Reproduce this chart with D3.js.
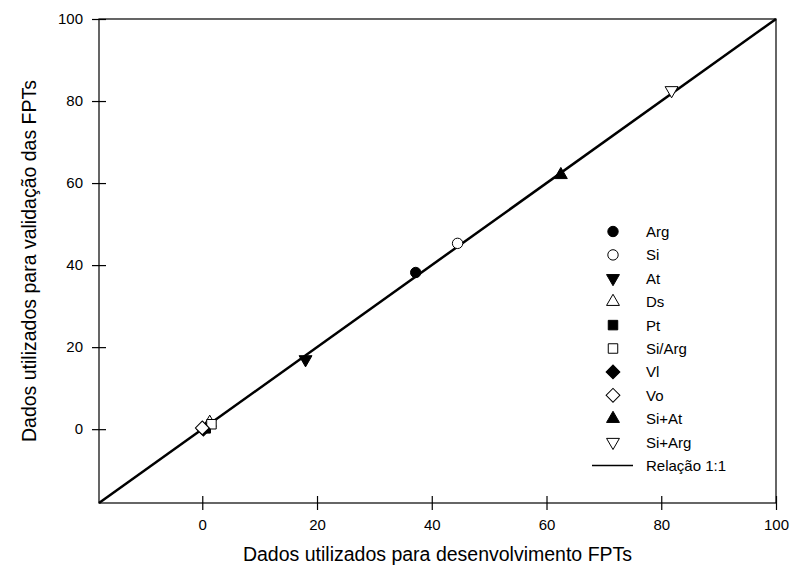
<!DOCTYPE html>
<html><head><meta charset="utf-8">
<script src="https://cdn.jsdelivr.net/npm/d3@7"></script>
<style>body{margin:0;background:#fff}svg{display:block}text{font-family:"Liberation Sans",Arial,sans-serif;fill:#000}</style>
</head><body><svg id="c" width="794" height="582"></svg>
<script>
const seriesNames = ["Arg","Si","At","Ds","Pt","Si/Arg","Vl","Vo","Si+At","Si+Arg"];
const xValues = [37.2, 44.5, 18.0, 1.3, 0.6, 1.6, 0.2, 0.0, 62.5, 81.8];
const yValues = [38.2, 45.3, 17.0, 1.6, 0.2, 1.2, 0.0, 0.3, 62.0, 82.6];
const shapes  = ["circle","circle","triDown","triUp","square","square","diamond","diamond","triUp","triDown"];
const filled  = [true,false,true,false,true,false,true,false,true,false];
const tickValues = [0,20,40,60,80,100];
const lineValues = [-18, 100];
const lineLabel = "Relação 1:1";
const xTitle = "Dados utilizados para desenvolvimento FPTs";
const yTitle = "Dados utilizados para validação das FPTs";

const svg = d3.select("#c");
const L = 99, R = 776, T = 19, B = 503;
const x = d3.scaleLinear().domain([-18, 100]).range([L, R]);
const y = d3.scaleLinear().domain([-18, 100]).range([B, T]);

function symPath(s){
  if (s === "circle") return d3.symbol(d3.symbolCircle, 85)();
  if (s === "square") return d3.symbol(d3.symbolSquare, 90)();
  if (s === "diamond") return d3.symbol(d3.symbolSquare, 95)();
  return d3.symbol(d3.symbolTriangle, 72)();
}
function symRot(s){
  if (s === "diamond") return 45;
  if (s === "triDown") return 180;
  return 0;
}

// frame
svg.append("rect").attr("x", L).attr("y", T).attr("width", R - L).attr("height", B - T)
  .attr("fill", "none").attr("stroke", "#000").attr("stroke-width", 1.2);

// axes
const xa = svg.append("g").attr("transform", `translate(0,${B})`)
  .call(d3.axisBottom(x).tickValues(tickValues).tickSize(7).tickPadding(9));
const ya = svg.append("g").attr("transform", `translate(${L},0)`)
  .call(d3.axisLeft(y).tickValues(tickValues).tickSize(7).tickPadding(9));
[xa, ya].forEach(g => {
  g.select(".domain").remove();
  g.selectAll(".tick line").attr("stroke", "#000").attr("stroke-width", 1.2);
  g.selectAll(".tick text").attr("font-size", 15).attr("font-family", "Liberation Sans, Arial, sans-serif").attr("fill", "#000");
});
xa.selectAll(".tick line").attr("y1", -7);
ya.selectAll(".tick line").attr("x1", 7);

// 1:1 line
svg.append("line").attr("x1", x(lineValues[0])).attr("y1", y(lineValues[0]))
  .attr("x2", x(lineValues[1])).attr("y2", y(lineValues[1]))
  .attr("stroke", "#000").attr("stroke-width", 2.5);

// points
seriesNames.forEach((n, i) => {
  svg.append("path").attr("d", symPath(shapes[i]))
    .attr("transform", `translate(${x(xValues[i])},${y(yValues[i])}) rotate(${symRot(shapes[i])})`)
    .attr("fill", filled[i] ? "#000" : "#fff").attr("stroke", "#000").attr("stroke-width", 1);
});

// legend
const lgX = 613, lgY = 231.5, lgDy = 23.4, lgTx = 646;
seriesNames.forEach((n, i) => {
  const yy = lgY + i * lgDy;
  svg.append("path").attr("d", symPath(shapes[i]))
    .attr("transform", `translate(${lgX},${yy}) rotate(${symRot(shapes[i])})`)
    .attr("fill", filled[i] ? "#000" : "#fff").attr("stroke", "#000").attr("stroke-width", 1);
  svg.append("text").attr("x", lgTx).attr("y", yy).attr("dy", "0.36em").attr("font-size", 15).text(n);
});
const ly = lgY + seriesNames.length * lgDy;
svg.append("line").attr("x1", 592).attr("x2", 633).attr("y1", ly).attr("y2", ly).attr("stroke", "#000").attr("stroke-width", 1.3);
svg.append("text").attr("x", lgTx).attr("y", ly).attr("dy", "0.36em").attr("font-size", 15).text(lineLabel);

// titles
svg.append("text").attr("x", (L + R) / 2).attr("y", 554).attr("dy", "0.36em").attr("text-anchor", "middle").attr("font-size", 19.5).text(xTitle);
svg.append("text").attr("transform", `translate(29,${(T + B) / 2}) rotate(-90)`).attr("dy", "0.36em").attr("text-anchor", "middle").attr("font-size", 19.5).text(yTitle);
</script></body></html>
